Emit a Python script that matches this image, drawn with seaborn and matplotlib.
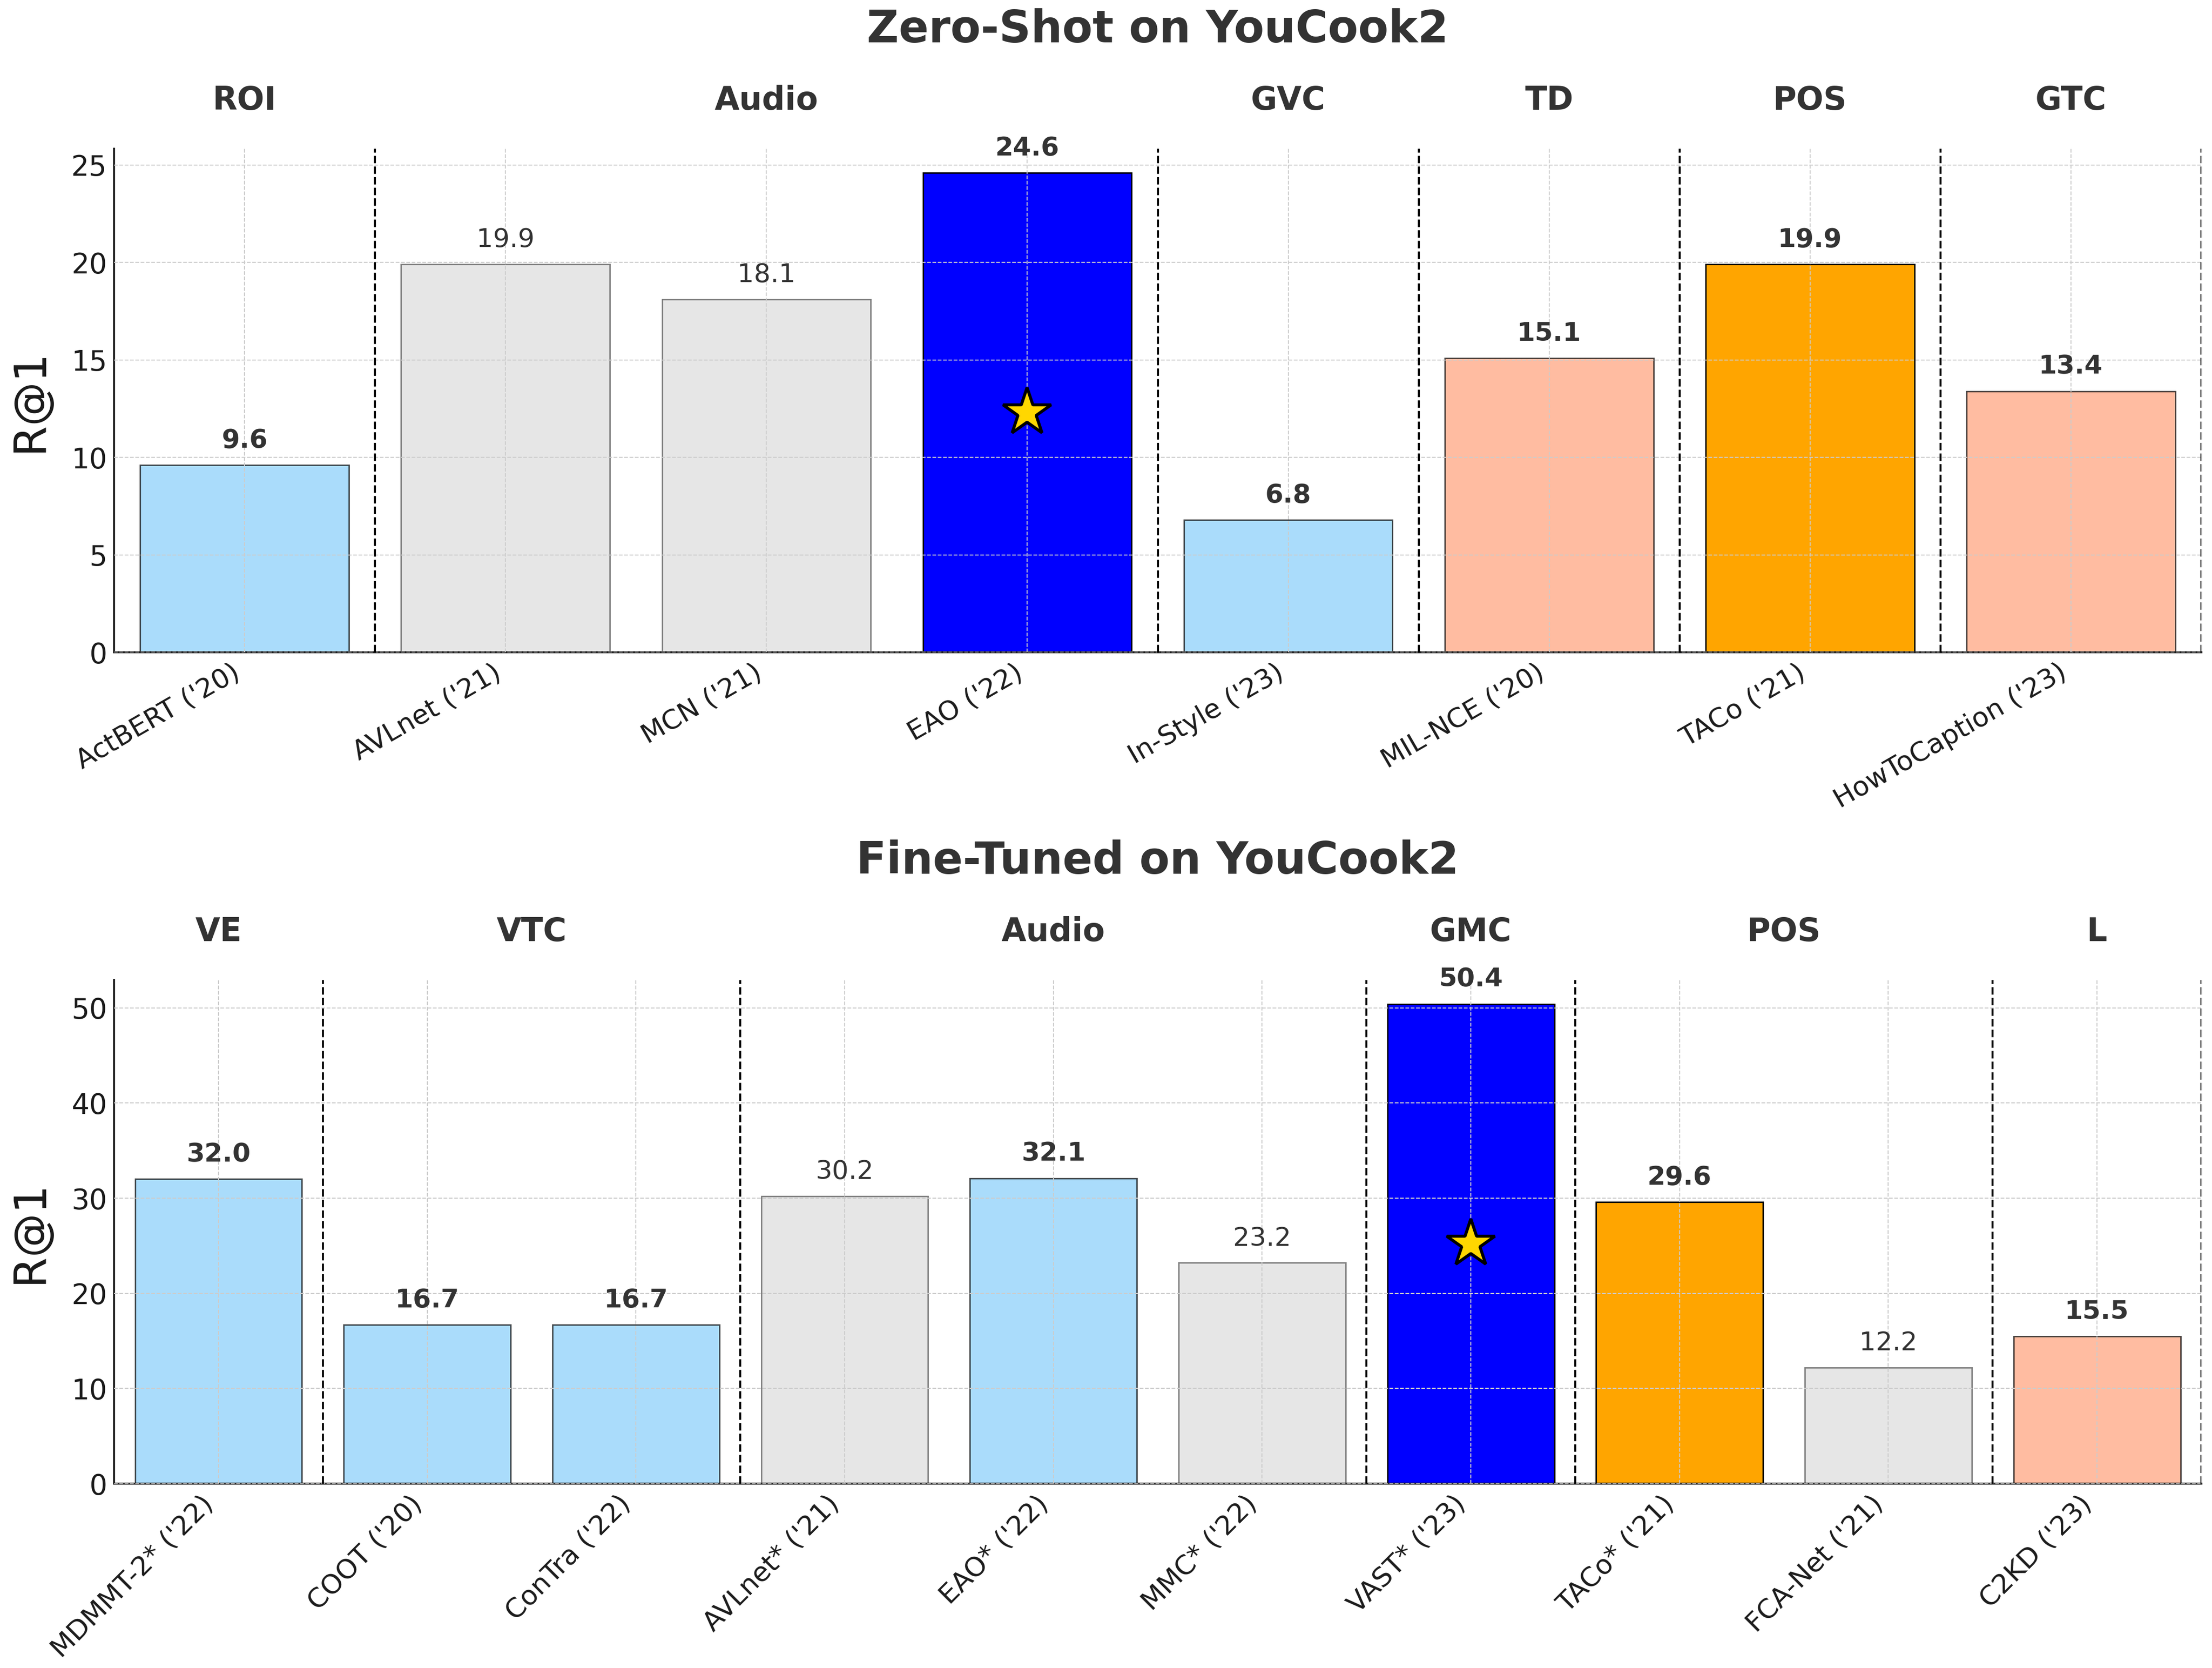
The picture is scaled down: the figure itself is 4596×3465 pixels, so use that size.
import matplotlib
matplotlib.use("Agg")
import matplotlib.pyplot as plt
import pandas as pd
import seaborn as sns

# Zero-shot panel
zs_models = ["ActBERT ('20)", "AVLnet ('21)", "MCN ('21)", "EAO ('22)",
             "In-Style ('23)", "MIL-NCE ('20)", "TACo ('21)", "HowToCaption ('23)"]
zs_scores = [9.6, 19.9, 18.1, 24.6, 6.8, 15.1, 19.9, 13.4]
zs_groups = ["ROI", "Audio", "Audio", "Audio", "GVC", "TD", "POS", "GTC"]
zs_kinds = ["blue_l", "grey", "grey", "best", "blue_l", "salmon", "orange", "salmon"]

# Fine-tuned panel
ft_models = ["MDMMT-2* ('22)", "COOT ('20)", "ConTra ('22)", "AVLnet* ('21)",
             "EAO* ('22)", "MMC* ('22)", "VAST* ('23)", "TACo* ('21)",
             "FCA-Net ('21)", "C2KD ('23)"]
ft_scores = [32.0, 16.7, 16.7, 30.2, 32.1, 23.2, 50.4, 29.6, 12.2, 15.5]
ft_groups = ["VE", "VTC", "VTC", "Audio", "Audio", "Audio", "GMC", "POS", "POS", "L"]
ft_kinds = ["blue_l", "blue_l", "blue_l", "grey", "blue_l", "grey", "best",
            "orange", "grey", "salmon"]

# face, edge, alpha, bold label
styles = {
    "blue_l": ("lightskyblue", "black", 0.7, True),
    "grey": ("#E6E6E6", "#808080", 1.0, False),
    "salmon": ("lightsalmon", "black", 0.7, True),
    "orange": ("orange", "black", 1.0, True),
    "best": ("blue", "black", 1.0, True),
}

text_col = "#333333"


def group_spans(groups):
    spans = []
    start = 0
    for i in range(1, len(groups) + 1):
        if i == len(groups) or groups[i] != groups[start]:
            spans.append((groups[start], start, i - 1))
            start = i
    return spans


def draw_panel(ax, models, scores, groups, kinds, title, rot):
    df = pd.DataFrame({"Model": models, "R@1": scores})
    sns.barplot(data=df, x="Model", y="R@1", hue="Model", palette=["#cccccc"] * len(models),
                legend=False, width=0.8, ax=ax, saturation=1)

    for p, k in zip(ax.patches, kinds):
        fc, ec, a, _ = styles[k]
        p.set_facecolor(fc)
        p.set_edgecolor(ec)
        p.set_linewidth(0.7)
        p.set_alpha(a)

    top = max(scores)
    ax.set_ylim(0, top * 1.05)
    ax.set_xlim(-0.5, len(models) - 0.5)

    for i, (v, k) in enumerate(zip(scores, kinds)):
        bold = styles[k][3]
        ax.annotate(f"{v:.1f}", (i, v), xytext=(0, 6), textcoords="offset points",
                    ha="center", va="bottom", fontsize=13,
                    fontweight="bold" if bold else "normal", color=text_col)
        if k == "best":
            ax.plot(i, v / 2, marker="*", markersize=25, color="gold",
                    markeredgecolor="black", markeredgewidth=1.5, zorder=5)

    for name, a, b in group_spans(groups):
        ax.axvline(b + 0.5, color="black", linestyle="--", linewidth=1.0, zorder=4)
        ax.text((a + b) / 2, top * 1.15, name, ha="center", va="center",
                fontsize=16, fontweight="bold", color=text_col)

    ax.set_title(title, fontsize=22, fontweight="bold", color=text_col, pad=53)
    ax.set_xlabel("")
    ax.set_ylabel("R@1", fontsize=22, color="#1a1a1a", labelpad=10)
    ax.grid(True, linestyle="--", linewidth=0.5, color="#cccccc")
    ax.set_axisbelow(False)
    ax.tick_params(axis="both", direction="in", length=3, width=1,
                   labelcolor="#1a1a1a", colors="#1a1a1a")
    ax.tick_params(axis="y", labelsize=14)
    ax.tick_params(axis="x", labelsize=13.5)
    plt.setp(ax.get_xticklabels(), rotation=rot, ha="right")
    for s in ["top", "right"]:
        ax.spines[s].set_visible(False)
    for s in ["left", "bottom"]:
        ax.spines[s].set_color("#222222")
        ax.spines[s].set_linewidth(1.0)


def main():
    sns.set_style("white")
    plt.rcParams["font.family"] = ["DejaVu Sans"]

    fig, (ax1, ax2) = plt.subplots(2, 1, figsize=(15.32, 11.55), dpi=300)
    fig.subplots_adjust(left=0.0516, right=0.9952, bottom=0.1105, top=0.9108, hspace=0.6506)

    draw_panel(ax1, zs_models, zs_scores, zs_groups, zs_kinds, "Zero-Shot on YouCook2", 30)
    draw_panel(ax2, ft_models, ft_scores, ft_groups, ft_kinds, "Fine-Tuned on YouCook2", 45)

    fig.savefig("out.png", dpi=300)


if __name__ == "__main__":
    main()
